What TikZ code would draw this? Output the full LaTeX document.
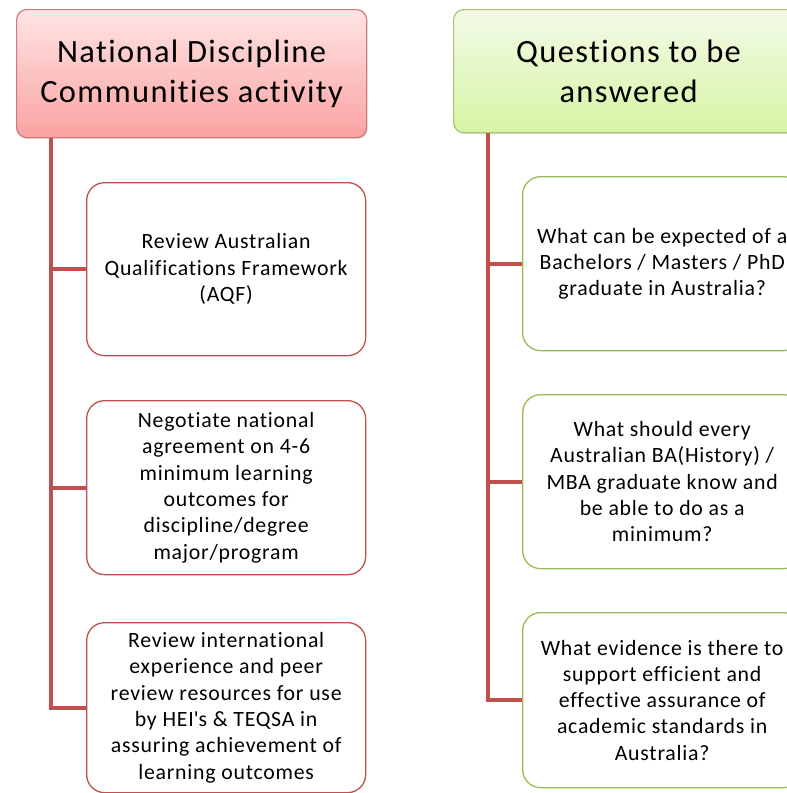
\documentclass[tikz,border=0pt]{standalone}
\usepackage{fontspec}
\setmainfont{Carlito}
\newfontfamily\kidfont[LetterSpace=3.5, Ligatures=NoCommon]{Carlito}
\newfontfamily\hdrfont[LetterSpace=4.2, Ligatures=NoCommon]{Carlito}
\usetikzlibrary{shadows}
\definecolor{redline}{HTML}{C0504D}
\definecolor{greenline}{HTML}{9BBB59}
\definecolor{hdrredborder}{HTML}{D47775}
\definecolor{hdrredtop}{HTML}{FFE4E4}
\definecolor{hdrredbot}{HTML}{F9A3A2}
\definecolor{hdrgreenborder}{HTML}{A7C46F}
\definecolor{hdrgreentop}{HTML}{F3FBE8}
\definecolor{hdrgreenbot}{HTML}{D6F4A4}
\begin{document}
\begin{tikzpicture}[x=1pt,y=-1pt,
  hdr/.style={rounded corners=10pt, line width=1.2pt, inner sep=0pt, align=center,
    font=\hdrfont\fontsize{32.5}{40}\selectfont, anchor=north west, minimum width=350pt,
    drop shadow={shadow xshift=1pt, shadow yshift=-1.5pt, fill=black!30, opacity=0.5}},
  redhdr/.style={hdr, draw=hdrredborder, top color=hdrredtop, bottom color=hdrredbot},
  greenhdr/.style={hdr, draw=hdrgreenborder, top color=hdrgreentop, bottom color=hdrgreenbot},
  kid/.style={rounded corners=18pt, line width=1.3pt, fill=white, inner sep=0pt, align=center,
    font=\kidfont\fontsize{21.8}{26.3}\selectfont, anchor=north west, minimum width=279pt},
  redkid/.style={kid, draw=redline},
  greenkid/.style={kid, draw=greenline},
  conn/.style={draw=redline, line width=4pt}]
\useasboundingbox (0,0) rectangle (787,793);
\clip (0,0) rectangle (787,793);
% headers
\node[redhdr, minimum height=128pt] (h1) at (16,9) {National Discipline\\Communities activity};
\node[greenhdr, minimum height=123pt] (h2) at (453,9) {Questions to be\\answered};
% left children
\node[redkid, minimum height=173pt] (c1) at (86,182) {Review Australian\\Qualifications Framework\\(AQF)};
\node[redkid, minimum height=174pt] (c2) at (86,400) {Negotiate national\\agreement on 4-6\\minimum learning\\outcomes for\\discipline/degree\\major/program};
\node[redkid, minimum height=170pt] (c3) at (86,622) {Review international\\experience and peer\\review resources for use\\by HEI\textquotesingle s \& TEQSA in\\assuring achievement of\\learning outcomes};
% right children
\node[greenkid, minimum height=174pt] (r1) at (522,176) {What can be expected of a\\Bachelors / Masters / PhD\\graduate in Australia?};
\node[greenkid, minimum height=174pt] (r2) at (522,394) {What should every\\Australian BA(History) /\\MBA graduate know and\\be able to do as a\\minimum?};
\node[greenkid, minimum height=175pt] (r3) at (522,612) {What evidence is there to\\support efficient and\\effective assurance of\\academic standards in\\Australia?};
% connectors
\draw[conn] ([xshift=35pt]h1.south west) |- (c1.west);
\draw[conn] ([xshift=35pt]h1.south west) |- (c2.west);
\draw[conn] ([xshift=35pt]h1.south west) |- (c3.west);
\draw[conn] ([xshift=35pt]h2.south west) |- (r1.west);
\draw[conn] ([xshift=35pt]h2.south west) |- (r2.west);
\draw[conn] ([xshift=35pt]h2.south west) |- (r3.west);
\end{tikzpicture}
\end{document}
